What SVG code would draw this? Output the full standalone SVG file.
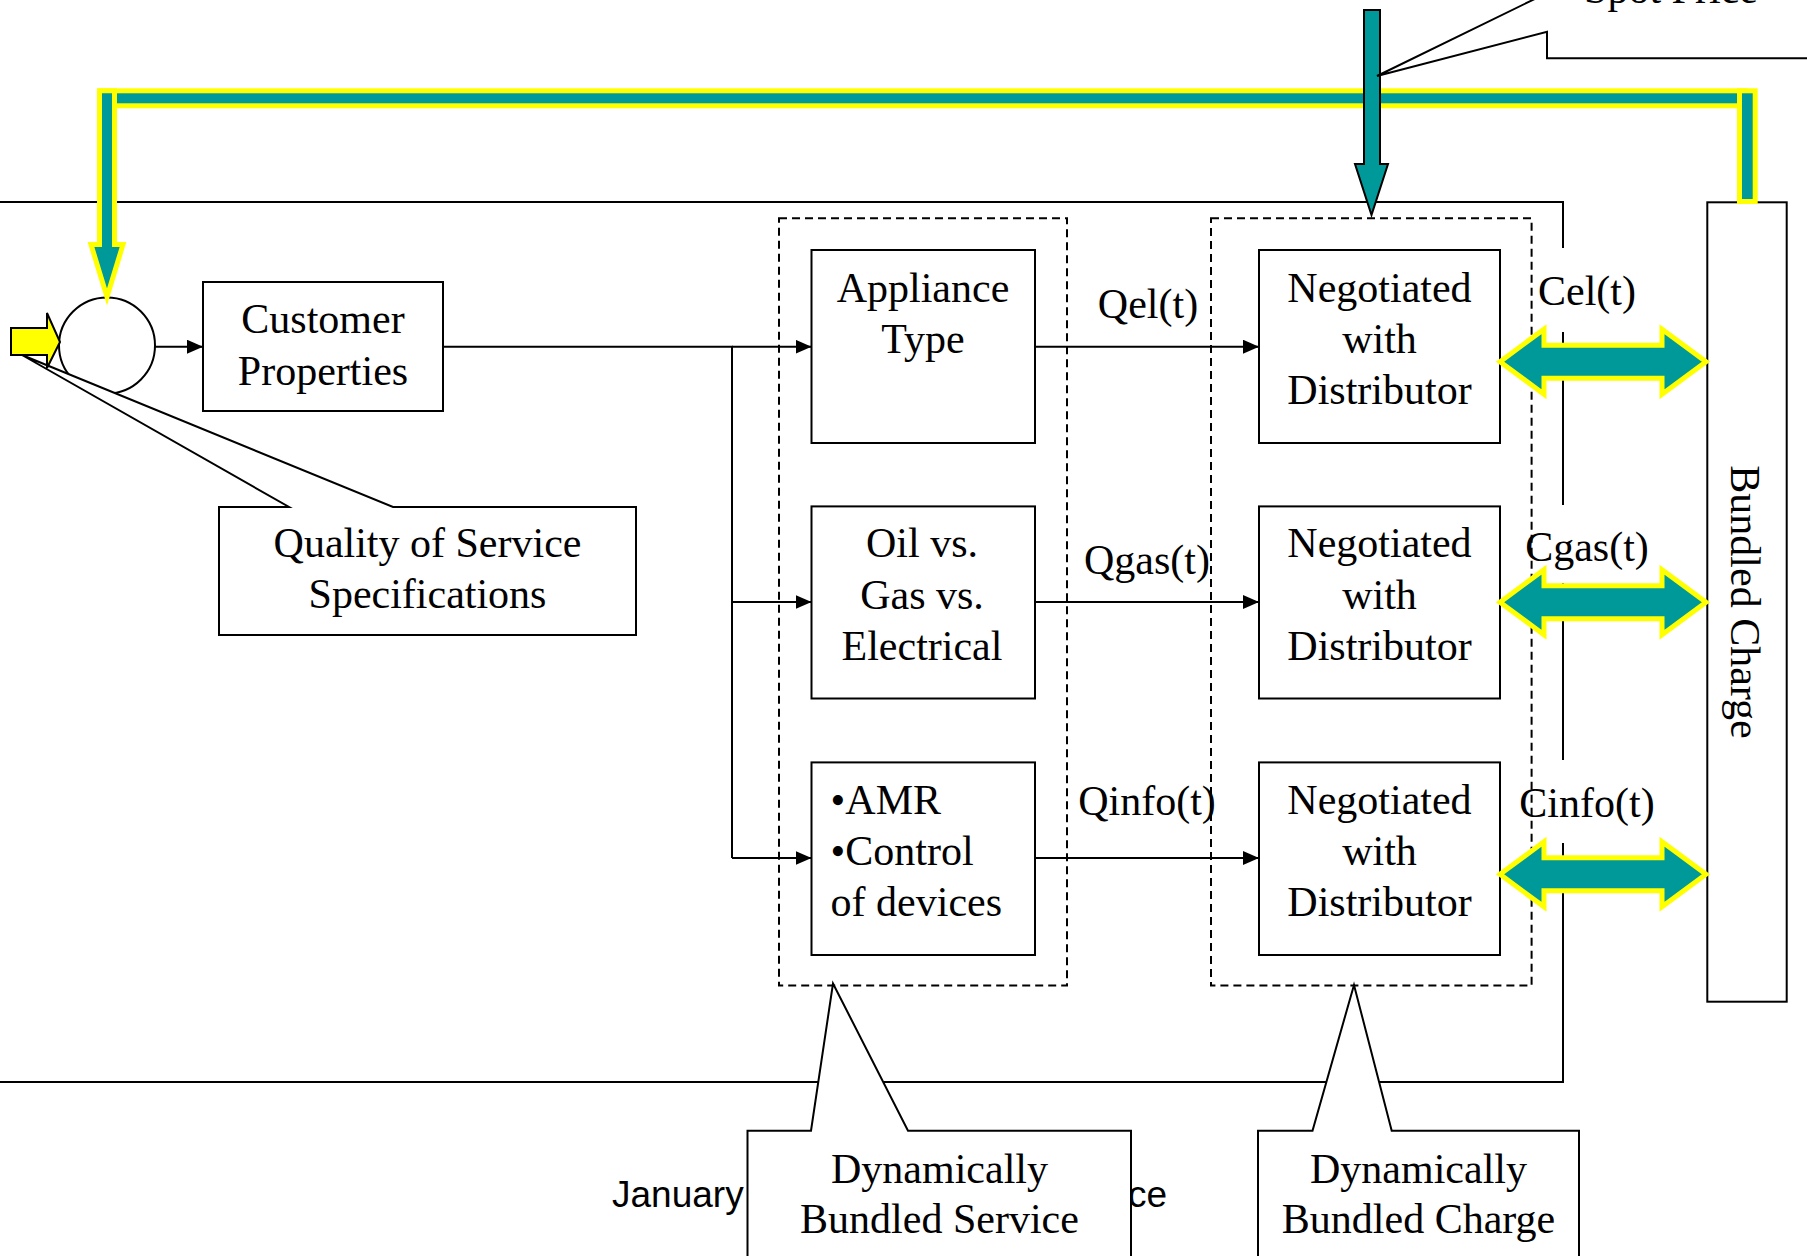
<svg xmlns="http://www.w3.org/2000/svg" width="1807" height="1256" viewBox="0 0 1807 1256">
<style>
.t{font-family:"Liberation Serif","Times New Roman",serif;font-size:42px;fill:#000}
.c{text-anchor:middle}
.box{fill:#fff;stroke:#000;stroke-width:2}
.ln{fill:none;stroke:#000;stroke-width:2}
.dash{fill:none;stroke:#000;stroke-width:2;stroke-dasharray:8,5}
.fat{fill:#009999;stroke:#ffff00;stroke-width:5}
.call{fill:#fff;stroke:#000;stroke-width:2;stroke-linejoin:miter}
</style>
<defs>
<marker id="ah" markerWidth="16" markerHeight="14" refX="16" refY="7" orient="auto" markerUnits="userSpaceOnUse">
<path d="M0,0 L16,7 L0,14 Z" fill="#000"/>
</marker>
</defs>
<rect width="1807" height="1256" fill="#fff"/>

<!-- outer frame -->
<g id="frame" class="ln">
<path d="M0,202 H1563 V248"/>
<path d="M1563,332 V505"/>
<path d="M1563,583 V760"/>
<path d="M1563,843 V1082 H0"/>
</g>

<!-- footer text partly hidden -->
<g id="footer" font-family="Liberation Sans, Arial, sans-serif" font-size="37">
<text x="612" y="1207">January</text>
<text x="1167" y="1207" text-anchor="end">ce</text>
</g>

<!-- dashed groups -->
<g id="dynServiceGroup"><rect class="dash" x="779" y="218.3" width="288" height="767.2"/></g>
<g id="dynChargeGroup"><rect class="dash" x="1211" y="218.3" width="320.6" height="767.2"/></g>

<!-- connectors -->
<g id="connectors" class="ln">
<line x1="155" y1="346.7" x2="203" y2="346.7" marker-end="url(#ah)"/>
<polyline points="443,346.7 732,346.7 732,858"/>
<line x1="732" y1="346.7" x2="811.5" y2="346.7" marker-end="url(#ah)"/>
<line x1="732" y1="602" x2="811.5" y2="602" marker-end="url(#ah)"/>
<line x1="732" y1="858" x2="811.5" y2="858" marker-end="url(#ah)"/>
<line x1="1035" y1="346.7" x2="1259" y2="346.7" marker-end="url(#ah)"/>
<line x1="1035" y1="602" x2="1259" y2="602" marker-end="url(#ah)"/>
<line x1="1035" y1="858" x2="1259" y2="858" marker-end="url(#ah)"/>
</g>

<!-- connector labels -->
<g id="qlabels" class="t c">
<text x="1148" y="318">Qel(t)</text>
<text x="1147" y="574">Qgas(t)</text>
<text x="1147" y="814.5">Qinfo(t)</text>
<text x="1587" y="305">Cel(t)</text>
<text x="1587" y="561">Cgas(t)</text>
<text x="1587" y="817">Cinfo(t)</text>
</g>

<!-- circle node -->
<g id="summingNode"><circle class="box" cx="107" cy="345.5" r="48"/></g>

<!-- Customer Properties -->
<g id="customerProperties">
<rect class="box" x="203" y="282" width="240" height="129"/>
<text class="t c" x="323" y="333">Customer</text>
<text class="t c" x="323" y="385">Properties</text>
</g>

<!-- Appliance Type -->
<g id="applianceType">
<rect class="box" x="811.5" y="250" width="223.5" height="193"/>
<text class="t c" x="923" y="301.7">Appliance</text>
<text class="t c" x="923" y="353">Type</text>
</g>

<g id="oilGasElectrical">
<rect class="box" x="811.5" y="506.4" width="223.5" height="192.1"/>
<text class="t c" x="922" y="557">Oil vs.</text>
<text class="t c" x="922" y="609">Gas vs.</text>
<text class="t c" x="922" y="660">Electrical</text>
</g>

<g id="amrControl">
<rect class="box" x="811.5" y="762.4" width="223.5" height="192.6"/>
<text class="t" x="830.6" y="814">•AMR</text>
<text class="t" x="830.6" y="865">•Control</text>
<text class="t" x="830.6" y="916">of devices</text>
</g>

<g id="negotiated1">
<rect class="box" x="1259" y="250" width="241" height="193"/>
<text class="t c" x="1379.5" y="301.7">Negotiated</text>
<text class="t c" x="1379.5" y="353">with</text>
<text class="t c" x="1379.5" y="404">Distributor</text>
</g>

<g id="negotiated2">
<rect class="box" x="1259" y="506.4" width="241" height="192.1"/>
<text class="t c" x="1379.5" y="557">Negotiated</text>
<text class="t c" x="1379.5" y="609">with</text>
<text class="t c" x="1379.5" y="660">Distributor</text>
</g>

<g id="negotiated3">
<rect class="box" x="1259" y="762.4" width="241" height="192.6"/>
<text class="t c" x="1379.5" y="814">Negotiated</text>
<text class="t c" x="1379.5" y="865">with</text>
<text class="t c" x="1379.5" y="916">Distributor</text>
</g>

<!-- Bundled Charge -->
<g id="bundledCharge">
<rect class="box" x="1707.3" y="202.3" width="79.4" height="799.4"/>
<text class="t c" transform="translate(1731,602) rotate(90)">Bundled Charge</text>
</g>

<!-- double arrows -->
<g id="chargeArrows" class="fat">
<polygon points="1500,361.7 1544,329.2 1544,345.2 1662,345.2 1662,329.2 1706,361.7 1662,394.2 1662,378.2 1544,378.2 1544,394.2"/>
<polygon points="1500,602.2 1544,569.7 1544,585.7 1662,585.7 1662,569.7 1706,602.2 1662,634.7 1662,618.7 1544,618.7 1544,634.7"/>
<polygon points="1500,874.3 1544,841.8 1544,857.8 1662,857.8 1662,841.8 1706,874.3 1662,906.8 1662,890.8 1544,890.8 1544,906.8"/>
</g>

<!-- feedback bar -->
<g id="feedbackLoop" class="fat">
<rect x="100" y="90.8" width="1645" height="15"/>
<rect x="1739.5" y="90.8" width="15.7" height="110.7"/>
<polygon points="99.5,90.8 114.5,90.8 114.5,244.5 123,244.5 107,297 91,244.5 99.5,244.5"/>
</g>

<!-- Spot price arrow -->
<g id="spotPriceArrow">
<polygon points="1364,10 1380,10 1380,164 1388,164 1371.5,215 1355,164 1364,164" fill="#009999" stroke="#000" stroke-width="2"/>
</g>

<!-- callouts -->
<g id="qosCallout">
<path class="call" d="M219,507 L289,507 L22,355 L393,507 L636,507 L636,635 L219,635 Z"/>
<text class="t c" x="427.5" y="557">Quality of Service</text>
<text class="t c" x="427.5" y="608">Specifications</text>
</g>

<g id="inputArrow">
<polygon points="11,328 47,328 47,313 60,342 47,368 47,355 11,355" fill="#ffff00" stroke="#000" stroke-width="2"/>
</g>

<g id="spotPriceCallout">
<path class="call" d="M1547,-7 L1377,76 L1547,31.7 L1547,58.3 L1830,58.3 L1830,-60 L1547,-60"/>
<text class="t c" x="1671" y="3">Spot Price</text>
</g>

<g id="dynServiceCallout">
<path class="call" d="M747.5,1130.7 L811,1130.7 L833,983.5 L908,1130.7 L1131,1130.7 L1131,1280 L747.5,1280 Z"/>
<text class="t c" x="939.5" y="1183">Dynamically</text>
<text class="t c" x="939.5" y="1233">Bundled Service</text>
</g>

<g id="dynChargeCallout">
<path class="call" d="M1258,1130.7 L1312.5,1130.7 L1354,985 L1391.7,1130.7 L1579,1130.7 L1579,1280 L1258,1280 Z"/>
<text class="t c" x="1418.5" y="1183">Dynamically</text>
<text class="t c" x="1418.5" y="1233">Bundled Charge</text>
</g>
</svg>
